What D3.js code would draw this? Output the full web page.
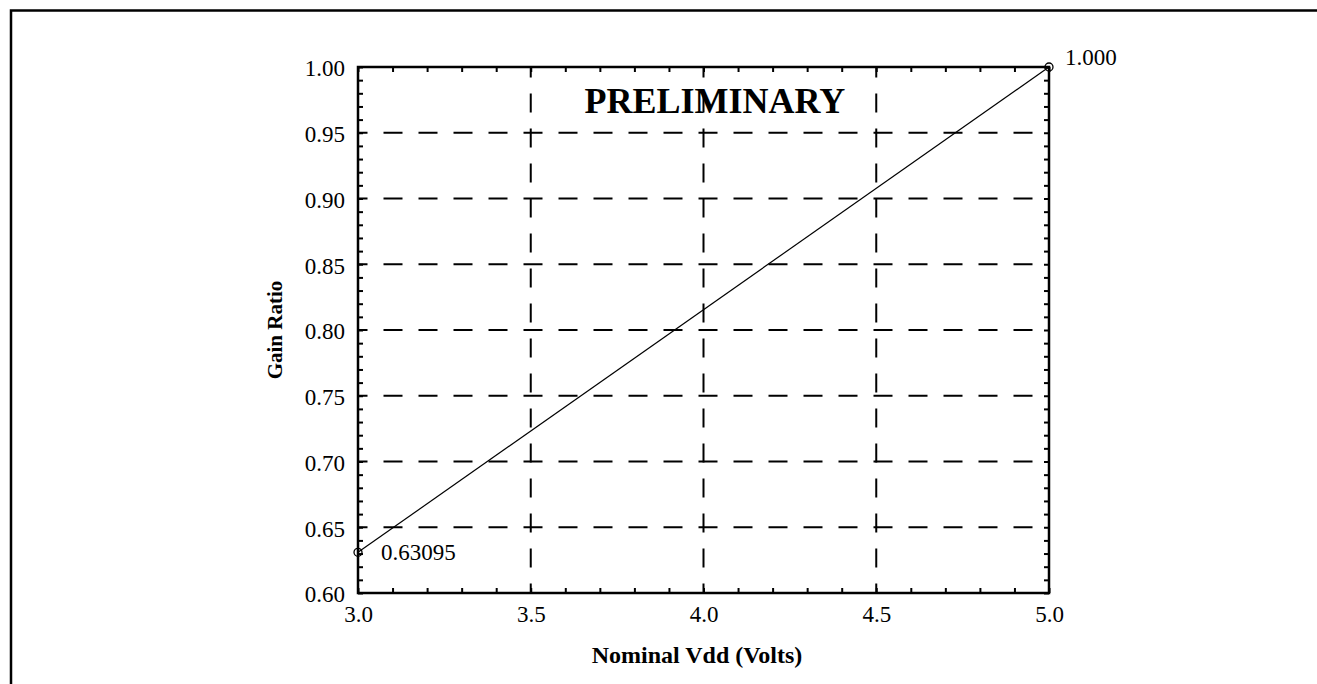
<!DOCTYPE html>
<html lang="en">
<head>
  <meta charset="UTF-8">
  <title>Gain Ratio vs Nominal Vdd</title>
  <script src="https://d3js.org/d3.v7.min.js"></script>
  <style>
    html, body {
      margin: 0;
      padding: 0;
      background: #fff;
    }
    svg text {
      font-family: "Liberation Serif", "Times New Roman", serif;
      fill: #000;
    }
    .grid line {
      stroke: #000;
      stroke-width: 2;
      stroke-dasharray: 19 16;
      stroke-dashoffset: 9.5;
    }
    .minor line {
      stroke: #000;
      stroke-width: 2;
    }
    .labels text {
      font-size: 23px;
    }
    .title {
      font-size: 24px;
      font-weight: bold;
    }
  </style>
</head>
<body>
  <div id="container"></div>
  <script>
    const width = 1317;
    const height = 684;

    // data
    const vdd = [3.0, 5.0];
    const gain = [0.63095, 1.0];
    const pointLabels = ['0.63095', '1.000'];

    const xTicks = [3.0, 3.5, 4.0, 4.5, 5.0];
    const yTicks = [0.60, 0.65, 0.70, 0.75, 0.80, 0.85, 0.90, 0.95, 1.00];
    const xMinor = d3.range(30, 51).map(d => d / 10);
    const yMinor = d3.range(60, 101).map(d => d / 100);

    const note = { text: 'PRELIMINARY', x: 4.033, y: 0.965 };

    const svg = d3.select('#container').append('svg')
      .attr('width', width).attr('height', height);

    // outer page frame (runs off the right and bottom of the window)
    svg.append('rect')
      .attr('x', 11).attr('y', 10.5)
      .attr('width', 1400).attr('height', 800)
      .attr('fill', 'none').attr('stroke', '#000').attr('stroke-width', 2.5);

    const x = d3.scaleLinear().domain([3, 5]).range([358, 1049]);
    const y = d3.scaleLinear().domain([0.6, 1.0]).range([593, 67]);

    // dashed grid
    const grid = svg.append('g').attr('class', 'grid');
    grid.selectAll('line.v').data(xTicks.slice(1, -1)).join('line')
      .attr('class', 'v')
      .attr('x1', d => x(d)).attr('x2', d => x(d))
      .attr('y1', y(0.6)).attr('y2', y(1.0));
    grid.selectAll('line.h').data(yTicks.slice(1, -1)).join('line')
      .attr('class', 'h')
      .attr('x1', x(3)).attr('x2', x(5))
      .attr('y1', d => y(d)).attr('y2', d => y(d));

    // inward minor ticks on all four sides
    const noLabel = () => '';
    const minorAxes = [
      [d3.axisBottom(x).tickValues(xMinor), `translate(0,${y(0.6)})`],
      [d3.axisTop(x).tickValues(xMinor), `translate(0,${y(1.0)})`],
      [d3.axisLeft(y).tickValues(yMinor), `translate(${x(3)},0)`],
      [d3.axisRight(y).tickValues(yMinor), `translate(${x(5)},0)`]
    ];
    minorAxes.forEach(([ax, tr]) => {
      svg.append('g').attr('class', 'minor').attr('transform', tr)
        .call(ax.tickSize(-5).tickFormat(noLabel))
        .call(g => g.select('.domain').remove());
    });

    // tick labels
    svg.append('g').attr('class', 'labels')
      .attr('transform', `translate(0,${y(0.6)})`)
      .call(d3.axisBottom(x).tickValues(xTicks).tickSize(0).tickPadding(13).tickFormat(d3.format('.1f')))
      .call(g => g.select('.domain').remove());

    svg.append('g').attr('class', 'labels')
      .attr('transform', `translate(${x(3)},0)`)
      .call(d3.axisLeft(y).tickValues(yTicks).tickSize(0).tickPadding(13).tickFormat(d3.format('.2f')))
      .call(g => g.select('.domain').remove())
      .call(g => g.selectAll('text').attr('dy', '0.38em'));

    svg.selectAll('.labels').attr('font-family', null).attr('font-size', null);

    // plot border
    svg.append('rect')
      .attr('x', x(3)).attr('y', y(1.0))
      .attr('width', x(5) - x(3)).attr('height', y(0.6) - y(1.0))
      .attr('fill', 'none').attr('stroke', '#000').attr('stroke-width', 2.5);

    // data line and markers
    const pts = vdd.map((v, i) => ({ v, g: gain[i], label: pointLabels[i] }));
    const line = d3.line().x(d => x(d.v)).y(d => y(d.g));
    svg.append('path').datum(pts)
      .attr('d', line)
      .attr('fill', 'none').attr('stroke', '#000').attr('stroke-width', 1.2);

    svg.selectAll('circle.pt').data(pts).join('circle')
      .attr('class', 'pt')
      .attr('cx', d => x(d.v)).attr('cy', d => y(d.g)).attr('r', 4)
      .attr('fill', 'none').attr('stroke', '#000').attr('stroke-width', 1.3);

    svg.selectAll('text.ptlab').data(pts).join('text')
      .attr('class', 'ptlab')
      .attr('x', (d, i) => x(d.v) + (i === 0 ? 23 : 16))
      .attr('y', (d, i) => y(d.g) + (i === 0 ? 8 : -2))
      .attr('font-size', 23)
      .text(d => d.label);

    // annotation
    svg.append('text')
      .attr('x', x(note.x)).attr('y', y(note.y))
      .attr('text-anchor', 'middle')
      .attr('font-size', 36).attr('font-weight', 'bold')
      .text(note.text);

    // axis titles
    svg.append('text').attr('class', 'title')
      .attr('x', 697).attr('y', 663)
      .attr('text-anchor', 'middle')
      .text('Nominal Vdd (Volts)');

    svg.append('text').attr('class', 'title')
      .attr('transform', `translate(282,${(y(0.6) + y(1.0)) / 2}) rotate(-90)`)
      .attr('text-anchor', 'middle')
      .style('font-size', '21px')
      .text('Gain Ratio');
  </script>
</body>
</html>
